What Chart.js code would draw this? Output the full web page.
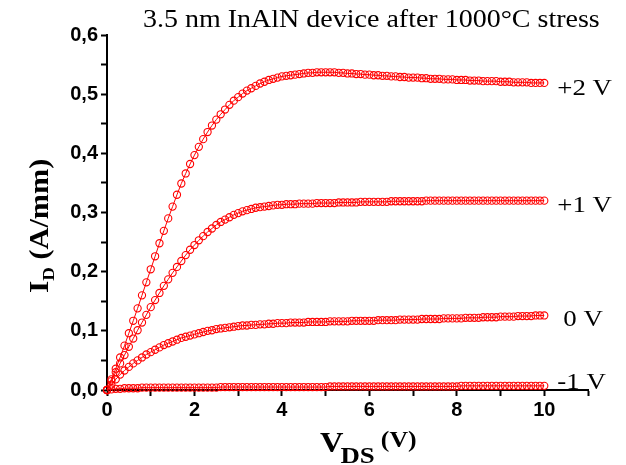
<!DOCTYPE html>
<html>
<head>
<meta charset="utf-8">
<title>InAlN output characteristics</title>
<script src="https://cdn.jsdelivr.net/npm/chart.js@4.4.1/dist/chart.umd.min.js"></script>
<style>
  html, body { margin: 0; padding: 0; background: #fff; }
  canvas { display: block; }
</style>
</head>
<body>
<canvas id="idvdChart" width="626" height="465"></canvas>
<script>
// drain sweep, V
const vds = [
    0.0, 0.1, 0.2, 0.3, 0.4, 0.5, 0.6, 0.7, 0.8, 0.9,
    1.0, 1.1, 1.2, 1.3, 1.4, 1.5, 1.6, 1.7, 1.8, 1.9,
    2.0, 2.1, 2.2, 2.3, 2.4, 2.5, 2.6, 2.7, 2.8, 2.9,
    3.0, 3.1, 3.2, 3.3, 3.4, 3.5, 3.6, 3.7, 3.8, 3.9,
    4.0, 4.1, 4.2, 4.3, 4.4, 4.5, 4.6, 4.7, 4.8, 4.9,
    5.0, 5.1, 5.2, 5.3, 5.4, 5.5, 5.6, 5.7, 5.8, 5.9,
    6.0, 6.1, 6.2, 6.3, 6.4, 6.5, 6.6, 6.7, 6.8, 6.9,
    7.0, 7.1, 7.2, 7.3, 7.4, 7.5, 7.6, 7.7, 7.8, 7.9,
    8.0, 8.1, 8.2, 8.3, 8.4, 8.5, 8.6, 8.7, 8.8, 8.9,
    9.0, 9.1, 9.2, 9.3, 9.4, 9.5, 9.6, 9.7, 9.8, 9.9,
    10.0
];

// drain current, A/mm, one array per gate voltage
const idVg2 = [
    0.000, 0.018, 0.036, 0.055, 0.075, 0.096, 0.117, 0.138, 0.160, 0.182,
    0.204, 0.226, 0.248, 0.269, 0.290, 0.310, 0.330, 0.349, 0.366, 0.382,
    0.397, 0.411, 0.424, 0.436, 0.447, 0.457, 0.466, 0.474, 0.482, 0.489,
    0.495, 0.501, 0.506, 0.510, 0.514, 0.518, 0.521, 0.524, 0.526, 0.528,
    0.530, 0.531, 0.532, 0.533, 0.534, 0.535, 0.536, 0.536, 0.537, 0.537,
    0.537, 0.537, 0.537, 0.536, 0.536, 0.535, 0.535, 0.534, 0.534, 0.533,
    0.533, 0.532, 0.532, 0.531, 0.531, 0.530, 0.530, 0.529, 0.529, 0.528,
    0.528, 0.528, 0.527, 0.527, 0.526, 0.526, 0.526, 0.525, 0.525, 0.525,
    0.524, 0.524, 0.524, 0.523, 0.523, 0.523, 0.522, 0.522, 0.522, 0.522,
    0.521, 0.521, 0.521, 0.520, 0.520, 0.520, 0.520, 0.519, 0.519, 0.519,
    0.519
];

const idVg1 = [
    0.000, 0.015, 0.030, 0.045, 0.059, 0.073, 0.087, 0.101, 0.114, 0.127,
    0.140, 0.152, 0.164, 0.176, 0.187, 0.198, 0.208, 0.218, 0.228, 0.237,
    0.245, 0.253, 0.260, 0.267, 0.273, 0.279, 0.284, 0.288, 0.292, 0.296,
    0.299, 0.302, 0.304, 0.306, 0.308, 0.309, 0.310, 0.311, 0.312, 0.313,
    0.313, 0.314, 0.314, 0.314, 0.315, 0.315, 0.315, 0.315, 0.316, 0.316,
    0.316, 0.316, 0.316, 0.317, 0.317, 0.317, 0.317, 0.317, 0.318, 0.318,
    0.318, 0.318, 0.318, 0.318, 0.318, 0.319, 0.319, 0.319, 0.319, 0.319,
    0.319, 0.319, 0.319, 0.320, 0.320, 0.320, 0.320, 0.320, 0.320, 0.320,
    0.320, 0.320, 0.320, 0.320, 0.320, 0.320, 0.320, 0.320, 0.320, 0.320,
    0.320, 0.320, 0.320, 0.320, 0.320, 0.320, 0.320, 0.320, 0.320, 0.320,
    0.320
];

const idVg0 = [
    0.000, 0.009, 0.018, 0.026, 0.033, 0.039, 0.045, 0.050, 0.055, 0.060,
    0.064, 0.068, 0.072, 0.076, 0.079, 0.082, 0.085, 0.088, 0.090, 0.092,
    0.094, 0.096, 0.098, 0.100, 0.101, 0.103, 0.104, 0.105, 0.106, 0.107,
    0.108, 0.109, 0.109, 0.110, 0.110, 0.111, 0.111, 0.112, 0.112, 0.113,
    0.113, 0.113, 0.114, 0.114, 0.114, 0.114, 0.115, 0.115, 0.115, 0.115,
    0.115, 0.116, 0.116, 0.116, 0.116, 0.116, 0.117, 0.117, 0.117, 0.117,
    0.117, 0.117, 0.118, 0.118, 0.118, 0.118, 0.118, 0.119, 0.119, 0.119,
    0.119, 0.119, 0.120, 0.120, 0.120, 0.120, 0.120, 0.121, 0.121, 0.121,
    0.121, 0.121, 0.122, 0.122, 0.122, 0.122, 0.123, 0.123, 0.123, 0.123,
    0.124, 0.124, 0.124, 0.124, 0.125, 0.125, 0.125, 0.125, 0.126, 0.126,
    0.126
];

const idVgM1 = [
    0.000, 0.001, 0.002, 0.002, 0.003, 0.003, 0.003, 0.003, 0.004, 0.004,
    0.004, 0.004, 0.004, 0.004, 0.004, 0.004, 0.004, 0.004, 0.004, 0.004,
    0.004, 0.004, 0.004, 0.004, 0.004, 0.004, 0.005, 0.005, 0.005, 0.005,
    0.005, 0.005, 0.005, 0.005, 0.005, 0.005, 0.005, 0.005, 0.005, 0.005,
    0.005, 0.005, 0.005, 0.005, 0.005, 0.005, 0.005, 0.005, 0.005, 0.005,
    0.005, 0.006, 0.006, 0.006, 0.006, 0.006, 0.006, 0.006, 0.006, 0.006,
    0.006, 0.006, 0.006, 0.006, 0.006, 0.006, 0.006, 0.006, 0.006, 0.006,
    0.006, 0.006, 0.006, 0.006, 0.006, 0.006, 0.006, 0.006, 0.006, 0.006,
    0.006, 0.007, 0.007, 0.007, 0.007, 0.007, 0.007, 0.007, 0.007, 0.007,
    0.007, 0.007, 0.007, 0.007, 0.007, 0.007, 0.007, 0.007, 0.007, 0.007,
    0.007
];

const gateLabels = ['+2 V', '+1 V', '0 V', '-1 V'];
const gateSeries = [idVg2, idVg1, idVg0, idVgM1];
const chartTitle = '3.5 nm InAlN device after 1000°C stress';

// where each gate label sits, relative to the last point of its curve
const labelOffsets = [
    { dx: 13, dy: 6 },
    { dx: 13, dy: 5 },
    { dx: 19, dy: 4 },
    { dx: 13, dy: -3 }
];

const RED = '#ff0000';
const SERIF = '"Liberation Serif", "Times New Roman", serif';
const TEXT_STRETCH = 1.12;

function toPoints(ys) {
    return ys.map((y, i) => ({ x: vds[i], y: y }));
}

// serif text, a little wider than its natural shape
function stretchedText(ctx, str, x, y, font) {
    ctx.save();
    ctx.font = font;
    ctx.translate(x, y);
    ctx.scale(TEXT_STRETCH, 1);
    ctx.fillText(str, 0, 0);
    const w = ctx.measureText(str).width * TEXT_STRETCH;
    ctx.restore();
    return w;
}

const annotations = {
    id: 'annotations',
    afterDraw(chart) {
        const ctx = chart.ctx;
        const xs = chart.scales.x;
        const ys = chart.scales.y;
        ctx.save();
        ctx.fillStyle = '#000';
        ctx.textAlign = 'left';

        // title
        ctx.textBaseline = 'alphabetic';
        stretchedText(ctx, chartTitle, 143, 27, '25px ' + SERIF);

        // gate voltage labels next to the curve ends
        ctx.textBaseline = 'middle';
        gateSeries.forEach((series, i) => {
            const last = series.length - 1;
            const px = xs.getPixelForValue(vds[last]) + labelOffsets[i].dx;
            const py = ys.getPixelForValue(series[last]) + labelOffsets[i].dy;
            stretchedText(ctx, gateLabels[i], px, py, '24px ' + SERIF);
        });

        // x axis title: V_DS (V)
        ctx.textBaseline = 'alphabetic';
        let x = 320;
        x += stretchedText(ctx, 'V', x, 452, 'bold 29px ' + SERIF);
        x += stretchedText(ctx, 'DS', x - 3, 463, 'bold 24px ' + SERIF);
        stretchedText(ctx, '(V)', x + 3, 447, 'bold 23px ' + SERIF);

        // y axis title: I_D (A/mm), rotated
        ctx.translate(48, 293);
        ctx.rotate(-Math.PI / 2);
        let t = 0;
        t += stretchedText(ctx, 'I', t, 0, 'bold 28px ' + SERIF);
        t += stretchedText(ctx, 'D', t, 6, 'bold 17px ' + SERIF);
        stretchedText(ctx, ' (A/mm)', t, 0, 'bold 27px ' + SERIF);

        ctx.restore();
    }
};

const ctx = document.getElementById('idvdChart');

new Chart(ctx, {
    type: 'scatter',
    data: {
        datasets: gateSeries.map((series, i) => ({
            label: gateLabels[i],
            data: toPoints(series),
            showLine: true,
            borderColor: RED,
            borderWidth: 1,
            pointStyle: 'circle',
            pointRadius: 3.6,
            pointBorderWidth: 1.1,
            pointBorderColor: RED,
            pointBackgroundColor: 'rgba(0,0,0,0)',
            clip: false
        }))
    },
    options: {
        responsive: false,
        animation: false,
        devicePixelRatio: 1,
        layout: {
            padding: { top: 35, right: 38, left: 0, bottom: 0 }
        },
        plugins: {
            legend: { display: false },
            title: { display: false },
            tooltip: { enabled: false }
        },
        scales: {
            x: {
                type: 'linear',
                min: 0,
                max: 11,
                afterFit: scale => { scale.height = 75; },
                border: { display: true, color: '#000', width: 2 },
                grid: {
                    display: true,
                    drawOnChartArea: false,
                    drawTicks: true,
                    tickLength: 6,
                    tickColor: '#000',
                    tickWidth: 2
                },
                ticks: {
                    stepSize: 1,
                    autoSkip: false,
                    maxRotation: 0,
                    padding: 2,
                    color: '#000',
                    font: { family: '"Liberation Sans", Arial, sans-serif', size: 20, weight: 'bold' },
                    callback: value => (value % 2 === 0 && value <= 10) ? String(value) : ''
                }
            },
            y: {
                type: 'linear',
                min: 0,
                max: 0.6,
                afterFit: scale => { scale.width = 107; },
                border: { display: true, color: '#000', width: 2 },
                grid: {
                    display: true,
                    drawOnChartArea: false,
                    drawTicks: true,
                    tickLength: 6,
                    tickColor: '#000',
                    tickWidth: 2
                },
                ticks: {
                    stepSize: 0.05,
                    autoSkip: false,
                    padding: 3,
                    color: '#000',
                    font: { family: '"Liberation Sans", Arial, sans-serif', size: 20, weight: 'bold' },
                    callback: value => {
                        const half = Math.round(value * 20);
                        return half % 2 === 0 ? value.toFixed(1).replace('.', ',') : '';
                    }
                }
            }
        }
    },
    plugins: [annotations]
});
</script>
</body>
</html>
